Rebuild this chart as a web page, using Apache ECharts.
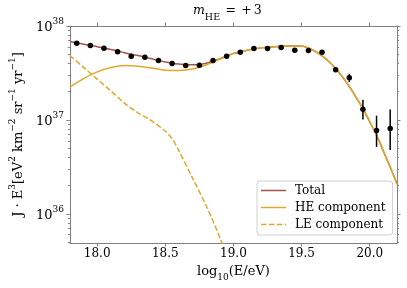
<!DOCTYPE html>
<html>
<head>
<meta charset="utf-8">
<script src="https://cdn.jsdelivr.net/npm/echarts@6/dist/echarts.min.js"></script>
<style>html,body{margin:0;padding:0;background:#fff}#c{width:407px;height:288px}</style>
</head>
<body>
<div id="c"></div>
<script>
// ---- data ----
const totalX = [17.80,17.85,17.90,17.95,18.00,18.05,18.10,18.15,18.20,18.25,18.30,18.35,18.40,18.45,18.50,18.55,18.60,18.65,18.70,18.75,18.80,18.85,18.90,18.95,19.00,19.05,19.10,19.20,19.30,19.40,19.50,19.55,19.60,19.65,19.70,19.75,19.80,19.85,19.90,19.95,20.00,20.05,20.10,20.15,20.20];
const totalY = [6.85e37,6.61e37,6.38e37,6.19e37,6.03e37,5.83e37,5.62e37,5.42e37,5.20e37,5.01e37,4.84e37,4.66e37,4.47e37,4.30e37,4.14e37,4.02e37,3.93e37,3.86e37,3.86e37,3.87e37,4.02e37,4.23e37,4.47e37,4.78e37,5.11e37,5.26e37,5.52e37,5.85e37,6.03e37,6.11e37,6.12e37,5.83e37,5.36e37,4.80e37,4.19e37,3.53e37,2.87e37,2.28e37,1.74e37,1.32e37,9.57e36,6.89e36,4.66e36,3.15e36,2.08e36];
const heX = [17.80,17.90,18.00,18.10,18.20,18.30,18.40,18.50,18.60,18.70,18.80,18.90,19.00,19.10,19.20,19.30,19.40,19.50,19.55,19.60,19.65,19.70,19.75,19.80,19.85,19.90,19.95,20.00,20.05,20.10,20.15,20.20];
const heY = [2.24e37,2.75e37,3.25e37,3.61e37,3.80e37,3.73e37,3.57e37,3.39e37,3.37e37,3.49e37,3.85e37,4.42e37,5.11e37,5.52e37,5.85e37,6.03e37,6.11e37,6.12e37,5.83e37,5.36e37,4.80e37,4.19e37,3.53e37,2.87e37,2.28e37,1.74e37,1.32e37,9.57e36,6.89e36,4.66e36,3.15e36,2.08e36];
const leX = [17.80,17.90,18.00,18.10,18.20,18.30,18.40,18.50,18.55,18.60,18.70,18.80,18.90,18.95];
const leY = [4.85e37,3.63e37,2.72e37,2.04e37,1.51e37,1.19e37,9.77e36,7.59e36,6.31e36,4.68e36,2.40e36,1.22e36,5.62e35,3.55e35];
const dataX = [17.85,17.95,18.05,18.15,18.25,18.35,18.45,18.55,18.65,18.75,18.85,18.95,19.05,19.15,19.25,19.35,19.45,19.55,19.65,19.75,19.85,19.95,20.05,20.15];
const dataY = [6.56e37,6.20e37,5.80e37,5.31e37,4.75e37,4.66e37,4.30e37,3.99e37,3.80e37,3.83e37,4.30e37,4.77e37,5.26e37,5.76e37,5.76e37,5.90e37,5.52e37,5.50e37,5.26e37,3.42e37,2.82e37,1.30e37,7.73e36,8.11e36];
const errX  = [19.75,19.85,19.95,20.05,20.15];
const errLo = [3.30e37,2.53e37,1.01e37,5.18e36,4.78e36];
const errHi = [3.55e37,3.10e37,1.64e37,1.11e37,1.29e37];
const xTicks = [18.0,18.5,19.0,19.5,20.0];
const yMajor = [1e36,1e37,1e38];
const yMinor = [5e35,6e35,7e35,8e35,9e35,2e36,3e36,4e36,5e36,6e36,7e36,8e36,9e36,2e37,3e37,4e37,5e37,6e37,7e37,8e37,9e37];

const FONT = 'DejaVu Serif';
const SPINE = '#808080';
const C_TOTAL = '#a3544d';
const C_GOLD = '#e1a92a';
const zip = (a, b) => a.map((v, i) => [v, b[i]]);

const xBase = {
  type: 'value', min: 17.8, max: 20.2,
  splitLine: {show: false},
  axisLine: {show: true, onZero: false, lineStyle: {color: SPINE, width: 1}},
  axisTick: {show: true, customValues: xTicks, length: 3.5, lineStyle: {color: SPINE}}
};
const yBase = (pos, minor, labels) => ({
  type: 'log', logBase: 10, min: 4.9e35, max: 1e38, position: pos,
  splitLine: {show: false},
  axisLine: {show: !minor, lineStyle: {color: SPINE, width: 1}},
  axisTick: {show: true, customValues: minor ? yMinor : yMajor, length: minor ? 2 : 3.5, lineStyle: {color: SPINE}},
  axisLabel: labels ? {
    show: true, customValues: yMajor, margin: 6,
    formatter: v => '{b|10}{s|' + Math.round(Math.log10(v)) + '}',
    rich: {
      b: {fontFamily: FONT, fontSize: 13, color: '#000', verticalAlign: 'bottom', lineHeight: 17},
      s: {fontFamily: FONT, fontSize: 9, color: '#000', verticalAlign: 'top', lineHeight: 17}
    }
  } : {show: false}
});

const solidIcon = 'path://M0,0h25v1.5h-25z';
const dashIcon = 'path://M0,0h5.5v1.5h-5.5z M7.9,0h5.5v1.5h-5.5z M15.8,0h5.5v1.5h-5.5z M23.7,0h1.3v1.5h-1.3z';

const tStyle = (size, extra) => Object.assign({fontFamily: FONT, fontWeight: 'normal', fontSize: size, color: '#000', lineHeight: 19, verticalAlign: 'top'}, extra || {});

const chart = echarts.init(document.getElementById('c'), null, {renderer: 'canvas'});
chart.setOption({
  animation: false,
  backgroundColor: '#fff',
  title: {
    text: '{i|m}{s|HE}{sp| }{n|=}{sp| }{n|+}{th| }{n|3}',
    left: 193, top: 4, padding: 0,
    textStyle: {
      fontWeight: 'normal',
      rich: {
        i: tStyle(12.5, {fontStyle: 'italic'}),
        s: tStyle(9.5, {verticalAlign: 'bottom'}),
        sp: tStyle(17),
        th: tStyle(6),
        n: tStyle(12.5)
      }
    }
  },
  grid: {left: 63, right: 10, top: 26, bottom: 45, containLabel: false},
  xAxis: [
    Object.assign({}, xBase, {
      position: 'bottom',
      name: '{n|log}{s|10}{n|(E/eV)}', nameLocation: 'middle', nameGap: 16,
      nameTextStyle: {
        rich: {
          n: {fontFamily: FONT, fontSize: 13, color: '#000', lineHeight: 17, verticalAlign: 'top'},
          s: {fontFamily: FONT, fontSize: 9, color: '#000', lineHeight: 17, verticalAlign: 'bottom'}
        }
      },
      axisLabel: {show: true, customValues: xTicks, margin: 5, fontFamily: FONT, fontSize: 12, color: '#000', formatter: v => v.toFixed(1)}
    }),
    Object.assign({}, xBase, {position: 'top', axisLabel: {show: false}})
  ],
  yAxis: [
    Object.assign(yBase('left', false, true), {
      name: '{n|J · E}{p|3}{n|[eV}{p|2}{n| km}{p|−2}{n| sr}{p|−1}{n| yr}{p|−1}{n|]}',
      nameLocation: 'middle', nameGap: 33, nameRotate: 90,
      nameTextStyle: {
        rich: {
          n: {fontFamily: FONT, fontSize: 13, color: '#000', lineHeight: 17, verticalAlign: 'bottom'},
          p: {fontFamily: FONT, fontSize: 9, color: '#000', lineHeight: 17, verticalAlign: 'top'}
        }
      }
    }),
    yBase('left', true, false),
    yBase('right', false, false),
    yBase('right', true, false)
  ],
  legend: {
    data: [
      {name: 'Total', icon: solidIcon},
      {name: 'HE component', icon: solidIcon},
      {name: 'LE component', icon: dashIcon}
    ],
    orient: 'vertical', left: 257, top: 181,
    itemWidth: 25, itemHeight: 1.5, itemGap: 4,
    padding: [3, 7, 4, 4],
    backgroundColor: 'rgba(255,255,255,0.8)',
    borderColor: '#d0d0d0', borderWidth: 1, borderRadius: 3,
    textStyle: {fontFamily: FONT, fontSize: 12, color: '#000', padding: [0, 0, 0, 4], lineHeight: 13}
  },
  series: [
    {name: 'Total', type: 'line', data: zip(totalX, totalY), smooth: 0.3, symbol: 'none',
     lineStyle: {color: C_TOTAL, width: 1.5}, itemStyle: {color: C_TOTAL}, z: 2},
    {name: 'HE component', type: 'line', data: zip(heX, heY), smooth: 0.3, symbol: 'none',
     lineStyle: {color: C_GOLD, width: 1.5}, itemStyle: {color: C_GOLD}, z: 3},
    {name: 'LE component', type: 'line', data: zip(leX, leY), smooth: 0.3, symbol: 'none',
     lineStyle: {color: C_GOLD, width: 1.5, type: [5.5, 2.4]}, itemStyle: {color: C_GOLD}, z: 3},
    {name: 'err', type: 'custom', data: errX.map((x, i) => [x, errLo[i], errHi[i]]),
     encode: {x: 0, y: [1, 2]}, z: 4,
     renderItem: (params, api) => {
       const p1 = api.coord([api.value(0), api.value(1)]);
       const p2 = api.coord([api.value(0), api.value(2)]);
       return {type: 'line', shape: {x1: p1[0], y1: p1[1], x2: p2[0], y2: p2[1]}, style: {stroke: '#000', lineWidth: 1.5}};
     }},
    {name: 'data', type: 'scatter', data: zip(dataX, dataY), symbol: 'circle', symbolSize: 5.5,
     itemStyle: {color: '#000', opacity: 1}, z: 5}
  ]
});
</script>
</body>
</html>
